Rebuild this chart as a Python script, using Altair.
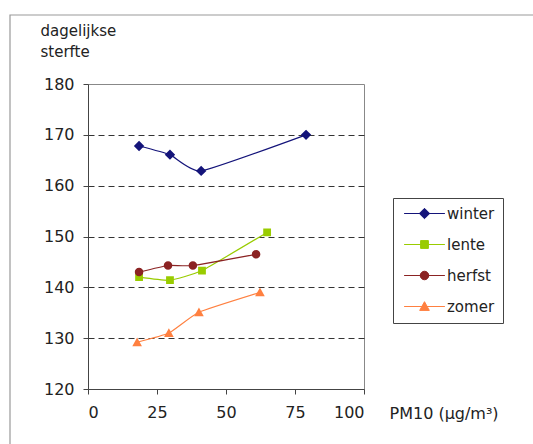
import altair as alt
import pandas as pd

series = ["winter", "lente", "herfst", "zomer"]
colors = ["#14147a", "#99cc00", "#8b2323", "#ff8040"]
shape_paths = [
    "M-5.5,0H5.5M0,-1.4L1.4,0L0,1.4L-1.4,0Z",
    "M-5.5,0H5.5M-1.05,-1.05H1.05V1.05H-1.05Z",
    "M-5.5,0H5.5M1.15,0A1.15,1.15,0,1,1,-1.15,0A1.15,1.15,0,1,1,1.15,0Z",
    "M-5.5,0H5.5M0,-1.3L1.3,1.05L-1.3,1.05Z",
]

winter_x = [18.5, 29.7, 41.0, 79.0]
winter_y = [167.8, 166.1, 162.9, 170.0]
lente_x = [18.5, 29.7, 41.3, 64.9]
lente_y = [142.0, 141.4, 143.3, 150.8]
herfst_x = [18.5, 29.0, 38.0, 60.9]
herfst_y = [143.0, 144.3, 144.3, 146.5]
zomer_x = [17.8, 29.3, 40.2, 62.3]
zomer_y = [129.2, 131.0, 135.1, 139.0]

x_ticks = [0, 25, 50, 75, 100]
y_ticks = [120, 130, 140, 150, 160, 170, 180]

rows = []
for name, xs, ys in [("winter", winter_x, winter_y), ("lente", lente_x, lente_y),
                     ("herfst", herfst_x, herfst_y), ("zomer", zomer_x, zomer_y)]:
    for i, (xv, yv) in enumerate(zip(xs, ys)):
        rows.append({"series": name, "pm10": xv, "sterfte": yv, "order": i})
df = pd.DataFrame(rows)

FONT = "DejaVu Sans"

x_enc = alt.X("pm10:Q", scale=alt.Scale(domain=[0, 100], nice=False, zero=False),
              axis=alt.Axis(values=x_ticks, title="PM10 (µg/m³)", titleX=301, titleY=24,
                            titleAlign="left", titleBaseline="middle", titleAngle=0,
                            titleFontSize=16, titleFontWeight="normal", titleFont=FONT,
                            titleColor="#222", labelFontSize=16, labelFont=FONT,
                            labelColor="#222", labelPadding=10, tickSize=5,
                            grid=False, domainColor="#444", tickColor="#444"))
y_enc = alt.Y("sterfte:Q", scale=alt.Scale(domain=[120, 180], nice=False, zero=False),
              axis=alt.Axis(values=y_ticks, title=["dagelijkse", "sterfte"], titleX=-48,
                            titleY=-61, titleAlign="left", titleBaseline="top", titleAngle=0,
                            titleFontSize=15, titleFontWeight="normal", titleFont=FONT,
                            titleColor="#222", titleLineHeight=21,
                            labelFontSize=16, labelFont=FONT, labelColor="#222",
                            labelPadding=9, tickSize=5, domainColor="#444", tickColor="#444",
                            grid=True, gridColor="#333", gridDash=[6, 4], gridWidth=1,
                            gridOpacity={"condition": {"test": "datum.value >= 175 || datum.value <= 125", "value": 0}, "value": 1}))

frame = alt.Chart(pd.DataFrame({"a": [0]})).mark_rect(
    fill="transparent", stroke="#999", strokeWidth=1.2
).encode(x=alt.value(-78), x2=alt.value(620), y=alt.value(-69), y2=alt.value(520))

lines = alt.Chart(df).mark_line(interpolate="cardinal", tension=0.55, strokeWidth=1.2).encode(
    x=x_enc, y=y_enc, order="order:Q",
    stroke=alt.Stroke("series:N", scale=alt.Scale(domain=series, range=colors),
                      legend=alt.Legend(title=None)),
)

points = alt.Chart(df).mark_point(filled=True, size=55, opacity=1).encode(
    x="pm10:Q", y="sterfte:Q",
    color=alt.Color("series:N", scale=alt.Scale(domain=series, range=colors),
                    legend=alt.Legend(title=None)),
    shape=alt.Shape("series:N", scale=alt.Scale(domain=series, range=shape_paths),
                    legend=alt.Legend(title=None)),
)

chart = alt.layer(frame, lines, points).properties(
    width=276, height=305,
    autosize=alt.AutoSizeParams(type="none"),
    padding={"left": 88, "top": 84, "right": 169, "bottom": 55},
    background="white",
).configure_view(
    stroke="#888", strokeWidth=1
).configure_legend(
    orient="none", legendX=305, legendY=114, strokeColor="#444", fillColor="white",
    padding=8, labelFont=FONT, labelFontSize=15, labelColor="#222",
    symbolSize=55, symbolStrokeWidth=1, rowPadding=15, labelOffset=15, symbolOffset=16,
)

chart.save("out.html", embed_options={"renderer": "svg", "actions": False})
